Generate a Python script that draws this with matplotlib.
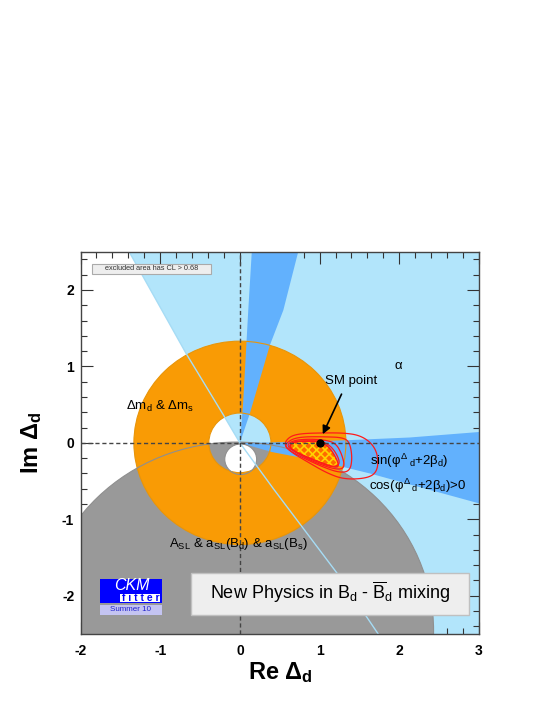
import numpy as np
import matplotlib
matplotlib.use('Agg')
import matplotlib.pyplot as plt
from matplotlib.patches import Polygon, Circle, Rectangle, PathPatch
from matplotlib.path import Path
from matplotlib.ticker import MultipleLocator

plt.rcParams['font.family'] = ['Liberation Sans', 'DejaVu Sans']
plt.rcParams['mathtext.fontset'] = 'custom'
plt.rcParams['mathtext.rm'] = 'Liberation Sans'
plt.rcParams['mathtext.it'] = 'Liberation Sans'
plt.rcParams['mathtext.bf'] = 'Liberation Sans:bold'
plt.rcParams['axes.unicode_minus'] = False
plt.rcParams['hatch.linewidth'] = 1.2

# ---------------- data ----------------
x_limits = [-2.0, 3.0]
y_limits = [-2.5, 2.5]
x_ticks = [-2, -1, 0, 1, 2, 3]
y_ticks = [-2, -1, 0, 1, 2]

# alpha constraint: boundary of allowed (light-blue) half plane
alpha_bx = [-1.42, -1.39, -0.67, -0.21, 0.0, 0.42, 1.23, 1.80]
alpha_by = [2.6, 2.5, 1.16, 0.37, 0.0, -0.60, -1.72, -2.6]

# sin(phi+2beta) solutions (dark blue)
sin_up_x = [0.0, 0.04, 0.105, 0.155, 0.757, 0.732, 0.545, 0.376, 0.125, 0.0]
sin_up_y = [0.0, 0.51, 1.735, 2.6, 2.6, 2.5, 1.735, 1.277, 0.385, 0.0]
sin_rt_x = [0.0, 0.4, 1.36, 2.13, 3.1, 3.1, 1.63, 1.0, 0.4, 0.0]
sin_rt_y = [0.0, 0.005, 0.035, 0.07, 0.15, -0.82, -0.40, -0.24, -0.12, 0.0]

# Delta m_d & Delta m_s ring (orange)
dm_center = (0.0, 0.0)
dm_r_out = 1.33
dm_r_in = 0.39

# A_SL excluded disk (grey) and allowed hole (white)
asl_center = (-0.04, -2.46)
asl_radius = 2.47
asl_hole_center = (0.01, -0.215)
asl_hole_radius = 0.20

# global fit contours (red)
cl_outer_x = [0.55, 0.62, 0.75, 1.0, 1.3, 1.5, 1.65, 1.73, 1.73, 1.62, 1.32, 1.1, 0.85, 0.64]
cl_outer_y = [-0.02, 0.08, 0.12, 0.13, 0.13, 0.10, 0.0, -0.15, -0.36, -0.46, -0.48, -0.40, -0.25, -0.12]
cl_3_x = [0.56, 0.65, 0.8, 1.05, 1.3, 1.38, 1.41, 1.38, 1.25, 1.05, 0.8, 0.62]
cl_3_y = [-0.03, 0.05, 0.08, 0.08, 0.07, 0.0, -0.2, -0.37, -0.39, -0.32, -0.2, -0.1]
cl_2_x = [0.58, 0.66, 0.85, 1.05, 1.2, 1.28, 1.32, 1.2, 0.95, 0.72]
cl_2_y = [-0.04, 0.03, 0.05, 0.04, 0.0, -0.15, -0.33, -0.35, -0.26, -0.14]
cl_1_x = [0.61, 0.7, 0.9, 1.05, 1.18, 1.27, 1.15, 0.9, 0.7]
cl_1_y = [-0.04, 0.02, 0.03, 0.02, -0.08, -0.28, -0.32, -0.22, -0.12]
cl_fill_x = [0.62, 0.68, 0.9, 1.04, 1.15, 1.25, 1.2, 0.95, 0.74, 0.64]
cl_fill_y = [-0.03, 0.02, 0.02, 0.01, -0.09, -0.29, -0.33, -0.23, -0.14, -0.08]

sm_point = (1.0, 0.0)

# colours
c_lightblue = '#b2e5fb'
c_darkblue = '#62b1fd'
c_orange = '#f99b05'
c_grey = '#999999'
c_red = '#ff1a1a'


def chaikin(xs, ys, n=3):
    p = np.column_stack([xs, ys]).astype(float)
    for _ in range(n):
        q = np.roll(p, -1, axis=0)
        a = 0.75 * p + 0.25 * q
        b = 0.25 * p + 0.75 * q
        p = np.empty((2 * len(a), 2))
        p[0::2] = a
        p[1::2] = b
    return p


fig = plt.figure(figsize=(5.45, 7.05), dpi=100)
ax = fig.add_axes([80.5 / 545, 1 - 634 / 705, (479 - 80.5) / 545, (634 - 251.7) / 705])
ax.set_xlim(x_limits)
ax.set_ylim(y_limits)

# alpha (light blue) region: right of the boundary
lb = list(zip(alpha_bx, alpha_by)) + [(3.2, -2.6), (3.2, 2.6)]
ax.add_patch(Polygon(lb, closed=True, facecolor=c_lightblue, edgecolor='none', zorder=1))

# A_SL grey excluded disk with white hole
ax.add_patch(Circle(asl_center, asl_radius, facecolor=c_grey, edgecolor='none', zorder=2))
ax.add_patch(Circle(asl_hole_center, asl_hole_radius, facecolor='white', edgecolor='none', zorder=2.1))

# orange ring
theta = np.linspace(0, 2 * np.pi, 400)
ring = np.concatenate([
    np.column_stack([dm_center[0] + dm_r_out * np.cos(theta), dm_center[1] + dm_r_out * np.sin(theta)]),
    np.column_stack([dm_center[0] + dm_r_in * np.cos(theta[::-1]), dm_center[1] + dm_r_in * np.sin(theta[::-1])]),
])
codes = [Path.MOVETO] + [Path.LINETO] * 399 + [Path.MOVETO] + [Path.LINETO] * 399
ax.add_patch(PathPatch(Path(ring, codes), facecolor=c_orange, edgecolor='none', zorder=3))

# dark blue wedges
ax.add_patch(Polygon(list(zip(sin_up_x, sin_up_y)), closed=True, facecolor=c_darkblue, edgecolor='none', zorder=4))
ax.add_patch(Polygon(list(zip(sin_rt_x, sin_rt_y)), closed=True, facecolor=c_darkblue, edgecolor='none', zorder=4))

# outlines
ax.add_patch(Circle(dm_center, dm_r_out, facecolor='none', edgecolor='#e8950a', lw=0.8, zorder=5))
ax.add_patch(Circle(dm_center, dm_r_in, facecolor='none', edgecolor='#e8950a', lw=0.8, zorder=5))
ax.add_patch(Circle(asl_center, asl_radius, facecolor='none', edgecolor='#8f8f8f', lw=0.8, zorder=5))
ax.add_patch(Circle(asl_hole_center, asl_hole_radius, facecolor='none', edgecolor='#8f8f8f', lw=0.8, zorder=5))
ax.plot(alpha_bx, alpha_by, color='#a6dcf5', lw=1.0, zorder=5)

# contours
fillp = chaikin(cl_fill_x, cl_fill_y)
ax.add_patch(Polygon(fillp, closed=True, facecolor='#ff6a00', edgecolor='#ffd200', hatch='xxxx', lw=0, zorder=6))
ax.add_patch(Polygon(fillp, closed=True, facecolor='none', edgecolor=c_red, lw=1.0, zorder=6.2))
for cx, cy in [(cl_1_x, cl_1_y), (cl_2_x, cl_2_y), (cl_3_x, cl_3_y), (cl_outer_x, cl_outer_y)]:
    p = chaikin(cx, cy)
    ax.add_patch(Polygon(p, closed=True, facecolor='none', edgecolor=c_red, lw=0.9, zorder=6.5))

# dashed axes lines
ax.axhline(0, color='#444444', lw=1.0, ls=(0, (3, 2)), zorder=7)
ax.axvline(0, color='#444444', lw=1.0, ls=(0, (3, 2)), zorder=7)

# SM point & arrow
ax.plot([sm_point[0]], [sm_point[1]], 'o', color='black', ms=5, zorder=9)
ax.annotate('', xy=(1.025, 0.08), xytext=(1.29, 0.67),
            arrowprops=dict(arrowstyle='-|>', color='black', lw=1.2, mutation_scale=12), zorder=9)

# labels inside
ax.text(1.39, 0.81, 'SM point', fontsize=9.5, ha='center', va='center', zorder=10)
ax.text(1.99, 1.0, 'α', fontsize=9.5, ha='center', va='center', zorder=10)
ax.text(-1.0, 0.48, r'Δm$_{d}$ & Δm$_{s}$', fontsize=9.5, ha='center', va='center', zorder=10)
ax.text(1.63, -0.23, r'sin($φ^{Δ}\,{}_{d}$+2$β_{d}$)', fontsize=9.5, ha='left', va='center', zorder=10)
ax.text(1.62, -0.56, r'cos($φ^{Δ}\,{}_{d}$+2$β_{d}$)>0', fontsize=9.5, ha='left', va='center', zorder=10)
ax.text(-0.02, -1.32, r'A$_{SL}$ & a$_{SL}$(B$_{d}$) & a$_{SL}$(B$_{s}$)', fontsize=9.5, ha='center', va='center', zorder=10)

# CL box
ax.add_patch(Rectangle((-1.853, 2.214), 1.489, 0.122, facecolor='#eeeeee', edgecolor='#aaaaaa', lw=0.8, zorder=10))
ax.text(-1.11, 2.275, 'excluded area has CL > 0.68', fontsize=5.3, ha='center', va='center', color='#333333', zorder=11)

# New physics box
ax.add_patch(Rectangle((-0.615, -2.25), 3.495, 0.55, facecolor='#eeeeee', edgecolor='#c0c0c0', lw=1.0, zorder=10))
ax.text(1.13, -1.96, r'New Physics in B$_{d}$ - $\overline{\mathrm{B}}_{d}$ mixing', fontsize=13, ha='center', va='center', zorder=11)

# CKMfitter logo
ax.add_patch(Rectangle((-1.757, -2.099), 0.775, 0.317, facecolor='#0000ff', edgecolor='none', zorder=10))
ax.add_patch(Rectangle((-1.50, -2.075), 0.50, 0.10, facecolor='white', edgecolor='none', zorder=10.5))
ax.text(-1.36, -1.86, 'CKM', fontsize=11.5, style='italic', color='white', ha='center', va='center', zorder=11)
ax.text(-1.24, -2.03, 'f i t t e r', fontsize=7.5, fontweight='bold', color='#0000ff', ha='center', va='center', zorder=11)
ax.add_patch(Rectangle((-1.757, -2.25), 0.775, 0.13, facecolor='#c4c4f2', edgecolor='none', zorder=10))
ax.text(-1.37, -2.185, 'Summer 10', fontsize=5.8, color='#2222cc', ha='center', va='center', zorder=11)

# ticks
ax.set_xticks(x_ticks)
ax.set_yticks(y_ticks)
ax.xaxis.set_minor_locator(MultipleLocator(0.2))
ax.yaxis.set_minor_locator(MultipleLocator(0.2))
ax.tick_params(which='both', direction='in', top=True, right=True, color='#333333', width=0.8)
ax.tick_params(which='major', length=8.5)
ax.tick_params(which='minor', length=4.3)
ax.tick_params(axis='x', which='major', pad=7.5, labelsize=10)
ax.tick_params(axis='y', which='major', pad=4.5, labelsize=10)
for lab in ax.get_xticklabels() + ax.get_yticklabels():
    lab.set_fontweight('bold')
for s in ax.spines.values():
    s.set_color('#444444')
    s.set_linewidth(1.0)
    s.set_zorder(12)

fig.text(280 / 545, 1 - 673 / 705, r'Re Δ$_{\mathbf{d}}$', fontsize=17, fontweight='bold', ha='center', va='center')
fig.text(32 / 545, 1 - 443 / 705, r'Im Δ$_{\mathbf{d}}$', fontsize=17, fontweight='bold', ha='center', va='center', rotation=90)

fig.savefig('out.png', dpi=100)
